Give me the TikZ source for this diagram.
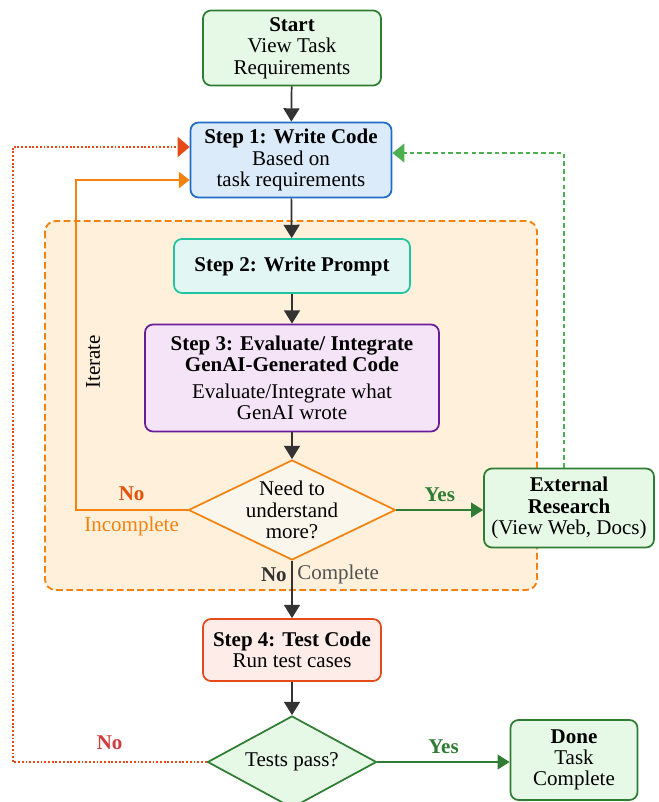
\documentclass[tikz,border=0pt]{standalone}
\usepackage{fontspec}
\setmainfont{Liberation Serif}
\usepackage{xcolor}
\usepackage{tikz}
\usetikzlibrary{arrows.meta,positioning,calc,shapes.geometric}

\definecolor{greenline}{HTML}{2E7D32}
\definecolor{greenfill}{HTML}{E6F8E6}
\definecolor{blueline}{HTML}{1E6CC8}
\definecolor{bluefill}{HTML}{DCEBFA}
\definecolor{tealline}{HTML}{22C4A0}
\definecolor{tealfill}{HTML}{E2F7F4}
\definecolor{purpleline}{HTML}{6A1B9A}
\definecolor{purplefill}{HTML}{F5E4F7}
\definecolor{orangeline}{HTML}{F5820F}
\definecolor{orangefill}{HTML}{FFF0DC}
\definecolor{beigefill}{HTML}{FAF6EC}
\definecolor{redline}{HTML}{E64A19}
\definecolor{redfill}{HTML}{FDECE7}
\definecolor{noorange}{HTML}{E65100}
\definecolor{nored}{HTML}{D63B3B}
\definecolor{darkline}{HTML}{333333}
\definecolor{lightgreen}{HTML}{4CAF50}

\tikzset{
    basefont/.style={font=\fontsize{15.75pt}{16pt}\selectfont},
    box/.style={basefont, draw, rounded corners=6pt, line width=1.3pt, align=center, inner sep=2pt},
    startbox/.style={box, draw=greenline, fill=greenfill},
    stepone/.style={box, draw=blueline, fill=bluefill},
    steptwo/.style={box, draw=tealline, fill=tealfill},
    stepthree/.style={box, draw=purpleline, fill=purplefill},
    stepfour/.style={box, draw=redline, fill=redfill},
    decision/.style={basefont, diamond, draw, line width=1.3pt, align=center, inner sep=-3pt},
    flow/.style={draw=darkline, line width=1.3pt, -{Triangle[length=10pt, width=12pt]}},
    yesline/.style={draw=greenline, line width=1.4pt, -{Triangle[length=9pt, width=11pt]}},
    iterline/.style={draw=orangeline, line width=1.4pt, -{Triangle[length=8pt, width=12pt]}},
    failline/.style={draw=redline, line width=1.4pt, dash pattern=on 1.4pt off 1.4pt,
        -{Triangle[length=9pt, width=15pt, fill=redline]}},
    researchline/.style={draw=lightgreen, line width=1.4pt, dash pattern=on 3.5pt off 2.3pt,
        -{Triangle[length=9pt, width=14pt, sep=0pt]}},
    tag/.style={basefont},
}

\begin{document}
\begin{tikzpicture}[x=0.75pt, y=-0.75pt]
    \useasboundingbox (0,0) rectangle (659,802);

    % ---- ITERATION REGION ----
    \draw[draw=orangeline, fill=orangefill, line width=1.4pt, rounded corners=8pt,
        dash pattern=on 5pt off 2.6pt] (45,221) rectangle (537,590);

    % ---- MAIN COLUMN ----
    \node[startbox, minimum width=133.5pt, minimum height=56.25pt] (start) at (292,48)
        {\textbf{Start}\\View Task\\Requirements};
    \node[stepone, minimum width=150.75pt, minimum height=56.25pt] (step1) at (291,160)
        {\textbf{Step 1: Write Code}\\Based on\\task requirements};
    \node[steptwo, minimum width=177pt, minimum height=40.5pt] (step2) at (292,266)
        {\textbf{Step 2: Write Prompt}};
    \node[stepthree, minimum width=220.5pt, minimum height=80.25pt] (step3) at (292,378)
        {\textbf{Step 3: Evaluate/ Integrate}\\\textbf{GenAI-Generated Code}\\[4pt]
         Evaluate/Integrate what\\GenAI wrote};
    \node[decision, aspect=2.07, draw=orangeline, fill=beigefill, minimum width=155.25pt,
        minimum height=75pt] (need) at (292,510) {Need to\\understand\\more?};
    \node[stepfour, minimum width=133.5pt, minimum height=46.5pt] (step4) at (292,650)
        {\textbf{Step 4: Test Code}\\Run test cases};
    \node[decision, aspect=1.84, draw=greenline, fill=greenfill, minimum width=126.75pt,
        minimum height=69pt] (tests) at (292,762) {Tests pass?};

    % ---- SIDE BOXES ----
    \node[startbox, minimum width=127.5pt, minimum height=59.25pt] (research) at (569,508)
        {\textbf{External}\\\textbf{Research}\\(View Web, Docs)};
    \node[startbox, minimum width=95.25pt, minimum height=60pt] (done) at (574,760)
        {\textbf{Done}\\Task\\Complete};

    % ---- MAIN FLOW ----
    \draw[flow] (start) -- (step1);
    \draw[flow] (step1) -- (step2);
    \draw[flow] (step2) -- (step3);
    \draw[flow] (step3) -- (need);
    \draw[flow] (need.south) --
        node[pos=0.24, left, tag, text=darkline] {\textbf{No}}
        node[pos=0.24, right, tag, text=darkline!85] {Complete} (step4.north);
    \draw[flow] (step4) -- (tests);

    % ---- BRANCHES ----
    \draw[yesline] (need.east) -- node[above=2pt, tag, text=greenline] {\textbf{Yes}}
        (need.east -| research.west);
    \draw[yesline] (tests.east) -- node[above=2pt, tag, text=greenline] {\textbf{Yes}}
        (tests.east -| done.west);

    % iterate loop
    \draw[iterline] (need.west) --
        node[above=3pt, tag, text=noorange] {\textbf{No}}
        node[below=1pt, tag, text=orangeline] {Incomplete}
        ++(-112,0) |- ([yshift=-15pt]step1.west);
    \node[tag, rotate=90] (iterate) at (93,362) {Iterate};

    % research back to step 1
    \draw[researchline] ([xshift=-4pt]research.north) |- ([yshift=5.25pt]step1.east);

    % failed tests back to step 1
    \draw[failline] (tests.west) -- node[above=5pt, tag, text=nored] {\textbf{No}}
        ++(-194,0) |- ([yshift=9.75pt]step1.west);

\end{tikzpicture}
\end{document}
